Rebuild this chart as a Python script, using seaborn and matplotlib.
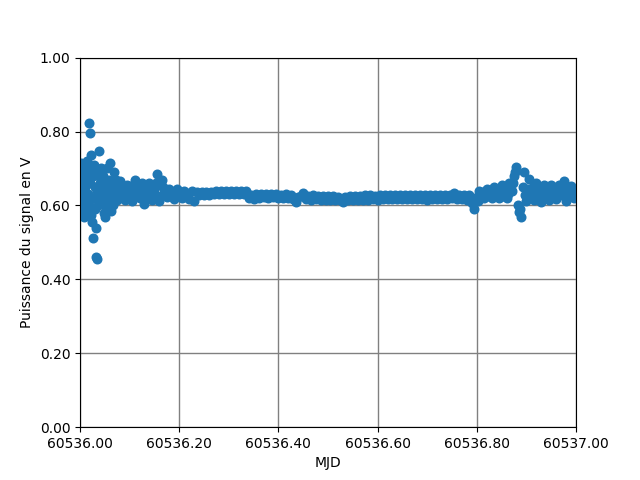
import numpy as np
import pandas as pd
import seaborn as sns
import matplotlib
matplotlib.use("Agg")
import matplotlib.pyplot as plt
from matplotlib.ticker import FormatStrFormatter

mjd_base = 60536.0

# Start of the night: noisy samples (offset from base MJD, power in V)
t_debut = [0.000, 0.001, 0.002, 0.003, 0.004, 0.005, 0.006, 0.007, 0.008, 0.009,
           0.010, 0.011, 0.012, 0.013, 0.014, 0.015, 0.016, 0.017, 0.018, 0.019,
           0.020, 0.021, 0.022, 0.023, 0.024, 0.025, 0.026, 0.027, 0.028, 0.029,
           0.030, 0.031, 0.032, 0.033, 0.034, 0.035, 0.036, 0.037, 0.038, 0.039,
           0.040, 0.041, 0.042, 0.043, 0.044, 0.045, 0.046, 0.047, 0.048, 0.049,
           0.050, 0.051, 0.052, 0.053, 0.054, 0.055, 0.056, 0.057, 0.058, 0.059,
           0.060, 0.061, 0.062, 0.063, 0.064, 0.065, 0.066, 0.067, 0.068, 0.069,
           0.070, 0.071, 0.072, 0.073, 0.074, 0.075, 0.076, 0.077, 0.078, 0.079]
p_debut = [0.640, 0.700, 0.580, 0.715, 0.660, 0.600, 0.690, 0.620, 0.570, 0.680,
           0.650, 0.705, 0.610, 0.670, 0.590, 0.720, 0.630, 0.690, 0.600, 0.824,
           0.797, 0.660, 0.737, 0.575, 0.700, 0.556, 0.512, 0.680, 0.620, 0.710,
           0.590, 0.650, 0.539, 0.461, 0.455, 0.640, 0.600, 0.690, 0.620, 0.748,
           0.660, 0.630, 0.700, 0.670, 0.610, 0.640, 0.680, 0.620, 0.580, 0.600,
           0.570, 0.610, 0.650, 0.620, 0.700, 0.660, 0.600, 0.640, 0.670, 0.630,
           0.715, 0.650, 0.585, 0.620, 0.660, 0.640, 0.600, 0.630, 0.690, 0.650,
           0.625, 0.645, 0.670, 0.635, 0.615, 0.640, 0.660, 0.625, 0.640, 0.650]

# Rest of the night
t_suite = [0.080, 0.085, 0.090, 0.095, 0.100, 0.105, 0.110, 0.115, 0.120, 0.125,
           0.130, 0.135, 0.140, 0.145, 0.150, 0.155, 0.160, 0.165, 0.170, 0.175,
           0.180, 0.185, 0.190, 0.195, 0.200, 0.205, 0.210, 0.215, 0.220, 0.225,
           0.230, 0.235, 0.240, 0.245, 0.250, 0.255, 0.260, 0.265, 0.270, 0.275,
           0.280, 0.285, 0.290, 0.295, 0.300, 0.305, 0.310, 0.315, 0.320, 0.325,
           0.330, 0.335, 0.340, 0.345, 0.350, 0.355, 0.360, 0.365, 0.370, 0.375,
           0.380, 0.385, 0.390, 0.395, 0.400, 0.405, 0.410, 0.415, 0.420, 0.425,
           0.430, 0.435, 0.440, 0.445, 0.450, 0.455, 0.460, 0.465, 0.470, 0.475,
           0.480, 0.485, 0.490, 0.495, 0.500, 0.505, 0.510, 0.515, 0.520, 0.525,
           0.530, 0.535, 0.540, 0.545, 0.550, 0.555, 0.560, 0.565, 0.570, 0.575,
           0.580, 0.585, 0.590, 0.595, 0.600, 0.605, 0.610, 0.615, 0.620, 0.625,
           0.630, 0.635, 0.640, 0.645, 0.650, 0.655, 0.660, 0.665, 0.670, 0.675,
           0.680, 0.685, 0.690, 0.695, 0.700, 0.705, 0.710, 0.715, 0.720, 0.725,
           0.730, 0.735, 0.740, 0.745, 0.750, 0.755, 0.760, 0.765, 0.770, 0.775,
           0.780, 0.785, 0.790, 0.795, 0.800, 0.805, 0.810, 0.815, 0.820, 0.825,
           0.830, 0.835, 0.840, 0.845, 0.850, 0.855, 0.860, 0.865, 0.870, 0.875,
           0.880, 0.885, 0.890, 0.895, 0.900, 0.905, 0.910, 0.915, 0.920, 0.925,
           0.930, 0.935, 0.940, 0.945, 0.950, 0.955, 0.960, 0.965, 0.970, 0.975,
           0.980, 0.985, 0.990, 0.995, 1.000]
p_suite = [0.665, 0.640, 0.615, 0.655, 0.635, 0.612, 0.668, 0.642, 0.620, 0.660,
           0.605, 0.638, 0.662, 0.615, 0.640, 0.685, 0.612, 0.668, 0.635, 0.622,
           0.645, 0.632, 0.618, 0.644, 0.630, 0.620, 0.640, 0.628, 0.618, 0.638,
           0.612, 0.637, 0.629, 0.636, 0.628, 0.637, 0.629, 0.637, 0.630, 0.638,
           0.630, 0.638, 0.631, 0.639, 0.631, 0.638, 0.632, 0.639, 0.631, 0.639,
           0.632, 0.638, 0.619, 0.627, 0.618, 0.630, 0.621, 0.631, 0.622, 0.630,
           0.621, 0.631, 0.622, 0.630, 0.621, 0.629, 0.620, 0.630, 0.619, 0.628,
           0.618, 0.608, 0.624, 0.626, 0.634, 0.617, 0.626, 0.616, 0.627, 0.617,
           0.626, 0.616, 0.625, 0.615, 0.626, 0.616, 0.625, 0.615, 0.624, 0.614,
           0.608, 0.624, 0.615, 0.625, 0.616, 0.626, 0.615, 0.625, 0.616, 0.627,
           0.616, 0.627, 0.617, 0.626, 0.616, 0.627, 0.617, 0.627, 0.618, 0.628,
           0.617, 0.627, 0.618, 0.628, 0.617, 0.627, 0.618, 0.628, 0.617, 0.627,
           0.618, 0.628, 0.617, 0.627, 0.616, 0.627, 0.617, 0.628, 0.618, 0.629,
           0.617, 0.628, 0.618, 0.629, 0.619, 0.633, 0.618, 0.628, 0.617, 0.627,
           0.616, 0.628, 0.606, 0.591, 0.622, 0.640, 0.630, 0.620, 0.645, 0.632,
           0.620, 0.650, 0.635, 0.619, 0.655, 0.638, 0.620, 0.660, 0.640, 0.680,
           0.704, 0.581, 0.570, 0.690, 0.612, 0.672, 0.640, 0.615, 0.660, 0.636,
           0.610, 0.655, 0.634, 0.614, 0.656, 0.636, 0.618, 0.654, 0.632, 0.665,
           0.612, 0.640, 0.652, 0.620, 0.638]

# Extra samples in the noisier stretches (after the start and at the end)
t_bruit = [0.0825, 0.0875, 0.0925, 0.0975, 0.1025, 0.1075, 0.1125, 0.1175, 0.1225, 0.1275,
           0.1325, 0.1375, 0.1425, 0.1475, 0.1525, 0.1575, 0.1625, 0.1675, 0.1725, 0.1775,
           0.1825, 0.1875, 0.1925, 0.1975,
           0.8025, 0.8075, 0.8125, 0.8175, 0.8225, 0.8275, 0.8325, 0.8375, 0.8425, 0.8475,
           0.8525, 0.8575, 0.8625, 0.8675, 0.8725, 0.8775, 0.8825, 0.8875, 0.8925, 0.8975,
           0.9025, 0.9075, 0.9125, 0.9175, 0.9225, 0.9275, 0.9325, 0.9375, 0.9425, 0.9475,
           0.9525, 0.9575, 0.9625, 0.9675, 0.9725, 0.9775, 0.9825, 0.9875, 0.9925, 0.9975]
p_bruit = [0.628, 0.650, 0.622, 0.645, 0.652, 0.625, 0.638, 0.655, 0.630, 0.645,
           0.650, 0.625, 0.648, 0.630, 0.660, 0.655, 0.625, 0.650, 0.640, 0.630,
           0.640, 0.625, 0.636, 0.628,
           0.612, 0.632, 0.628, 0.638, 0.625, 0.640, 0.630, 0.645, 0.628, 0.645,
           0.626, 0.648, 0.630, 0.650, 0.660, 0.690, 0.600, 0.590, 0.650, 0.628,
           0.645, 0.625, 0.650, 0.622, 0.645, 0.628, 0.645, 0.622, 0.645, 0.628,
           0.645, 0.625, 0.645, 0.628, 0.648, 0.625, 0.645, 0.628, 0.645, 0.630]

df = pd.DataFrame({
    "MJD": np.array(t_debut + t_suite + t_bruit) + mjd_base,
    "puissance": p_debut + p_suite + p_bruit,
})

fig, ax = plt.subplots(figsize=(6.4, 4.8), dpi=100)
sns.scatterplot(x="MJD", y="puissance", data=df, ax=ax, s=36,
                color="#1f77b4", edgecolor="#1f77b4", linewidth=1.2)

ax.set_xlim(60536.0, 60537.0)
ax.set_ylim(0, 1)
ax.set_xticks([60536.0, 60536.2, 60536.4, 60536.6, 60536.8, 60537.0])
ax.xaxis.set_major_formatter(FormatStrFormatter("%.2f"))
ax.yaxis.set_major_formatter(FormatStrFormatter("%.2f"))
ax.set_axisbelow(True)
ax.grid(True, color="gray", linewidth=1)
ax.set_xlabel("MJD")
ax.set_ylabel("Puissance du signal en V")

plt.savefig("out.png", dpi=100)
